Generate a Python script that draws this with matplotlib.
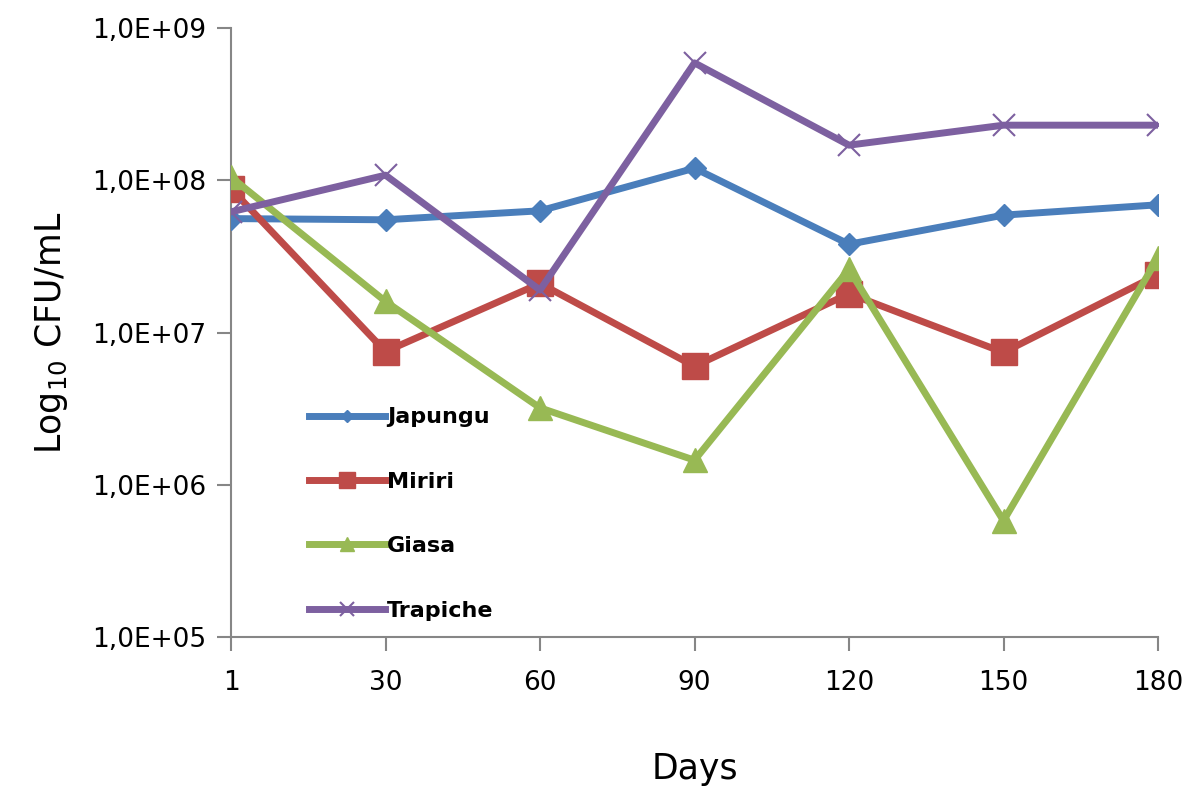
import numpy as np
import matplotlib.pyplot as plt
from matplotlib.ticker import FixedLocator, NullLocator

# sampling days (categorical axis)
days = ["1", "30", "60", "90", "120", "150", "180"]

# CFU/mL counts
japungu = [5.6e7, 5.5e7, 6.3e7, 1.2e8, 3.8e7, 5.9e7, 6.9e7]
miriri = [8.8e7, 7.5e6, 2.1e7, 6.0e6, 1.8e7, 7.4e6, 2.4e7]
giasa = [1.05e8, 1.6e7, 3.2e6, 1.45e6, 2.6e7, 5.8e5, 3.1e7]
trapiche = [6.2e7, 1.08e8, 1.9e7, 5.9e8, 1.7e8, 2.3e8, 2.3e8]

fig = plt.figure(figsize=(12, 7.93), dpi=100)
ax = fig.add_axes([0.1925, 0.1967, 0.7725, 0.768])

x = np.arange(len(days))
ax.plot(x, japungu, color="#4A7EBB", lw=5, marker="D", ms=11, label="Japungu", zorder=3)
ax.plot(x, miriri, color="#BE4B48", lw=5, marker="s", ms=19, label="Miriri", zorder=3)
ax.plot(x, giasa, color="#98B954", lw=5, marker="^", ms=17, label="Giasa", zorder=3)
ax.plot(x, trapiche, color="#7D60A0", lw=5, marker="x", ms=16, mew=1.5, label="Trapiche", zorder=4)

ax.set_yscale("log")
ax.set_ylim(1e5, 1e9)
ax.set_xlim(0, len(days) - 1)
ax.yaxis.set_major_locator(FixedLocator([1e5, 1e6, 1e7, 1e8, 1e9]))
ax.yaxis.set_minor_locator(NullLocator())
ax.set_yticklabels(["1,0E+05", "1,0E+06", "1,0E+07", "1,0E+08", "1,0E+09"])
ax.set_xticks(x)
ax.set_xticklabels(days)

for s in ["top", "right"]:
    ax.spines[s].set_visible(False)
for s in ["left", "bottom"]:
    ax.spines[s].set_color("#868686")
    ax.spines[s].set_linewidth(1.5)
ax.tick_params(axis="both", colors="#868686", width=1.5, length=10, labelsize=19,
               labelcolor="black")
ax.tick_params(axis="x", pad=14)
ax.tick_params(axis="y", pad=8)

ax.set_ylabel("Log$_{10}$ CFU/mL", fontsize=25, labelpad=16)
ax.set_xlabel("Days", fontsize=25, labelpad=40)

leg = ax.legend(loc="upper left", bbox_to_anchor=(0.063, 0.41), frameon=False,
                fontsize=16, labelspacing=2.0, handlelength=3.4, handletextpad=0.1,
                markerscale=0.6)
for t in leg.get_texts():
    t.set_fontweight("semibold")

fig.savefig("out.png", dpi=100)
